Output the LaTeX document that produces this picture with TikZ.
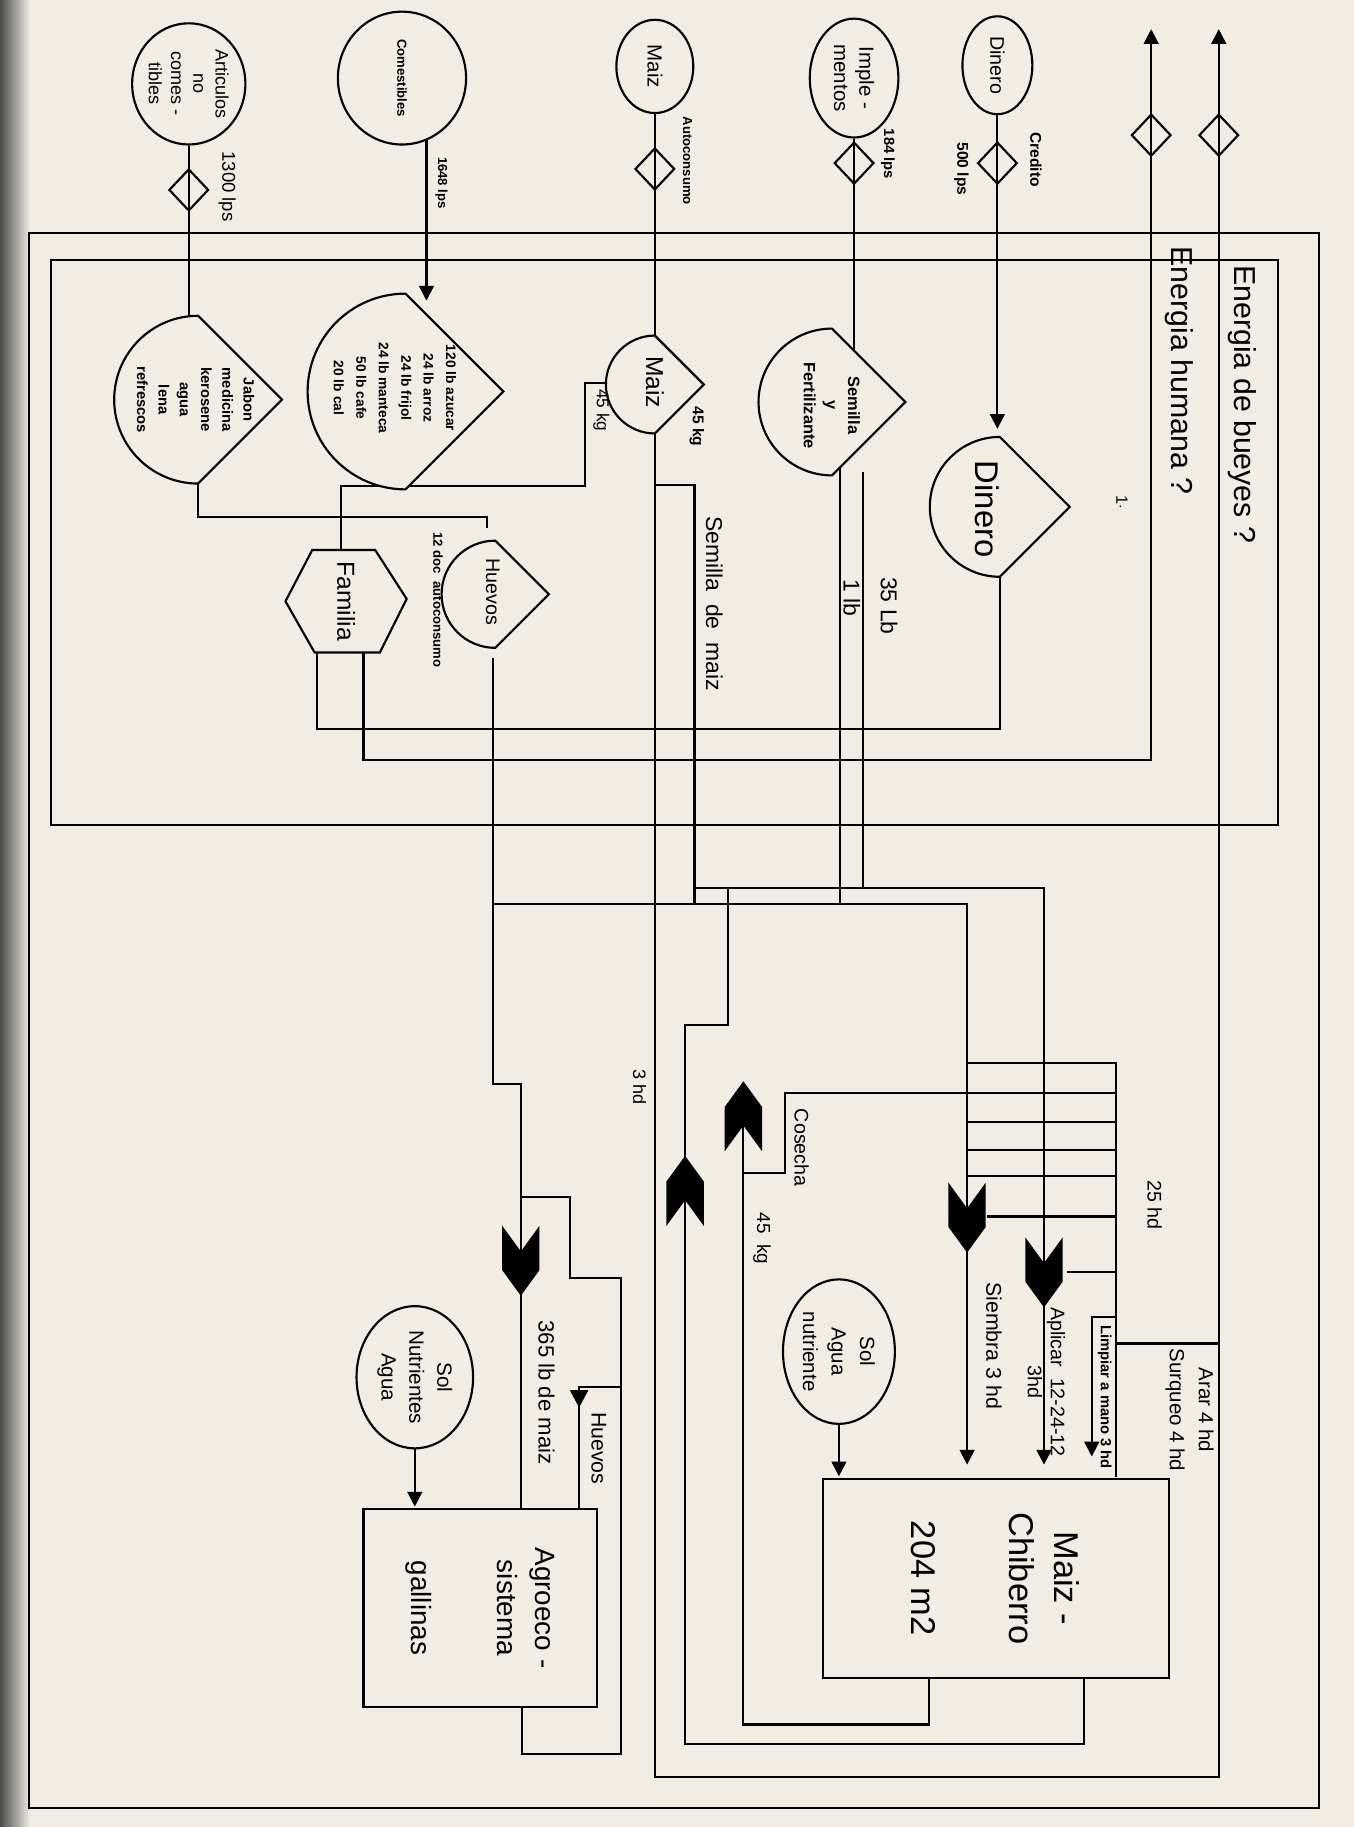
\documentclass[tikz,border=0pt]{standalone}
\usepackage{fontspec}
\setmainfont{Liberation Sans}
\usetikzlibrary{shapes.geometric,arrows.meta}
\definecolor{paper}{RGB}{241,236,228}
\newcommand\tagshape[3]{\draw[ln,fill=paper] (#1,#2-#3) arc[start angle=270,end angle=90,radius=#3] -- (#1+#3,#2) -- cycle;}
\newcommand\chevdown[2]{\fill[shift={(#1,#2)}] (-16,-30) -- (0,-8) -- (16,-30) -- (16,8) -- (0,30) -- (-16,8) -- cycle;}
\newcommand\chevup[2]{\fill[shift={(#1,#2)}] (-16,30) -- (0,8) -- (16,30) -- (16,-8) -- (0,-30) -- (-16,-8) -- cycle;}
\begin{document}
\begin{tikzpicture}[x=0.025cm,y=-0.025cm,
  ln/.style={line width=1.3pt,line join=miter},
  arr/.style={ln,-{Triangle[width=9pt,length=9pt]}},
  ell/.style={draw,ellipse,line width=1.3pt,inner sep=0pt,rotate=-90,align=center},
  dia/.style={draw,diamond,line width=1.3pt,inner sep=0pt,minimum width=0.85cm,minimum height=0.9cm},
  lbl/.style={rotate=-90,inner sep=0pt,align=center},
  fs/.style 2 args={font=\fontsize{#1}{#2}\selectfont},
  fsb/.style 2 args={font=\fontsize{#1}{#2}\selectfont\bfseries}]
\useasboundingbox (0,0) rectangle (1162,1568);
\fill[paper] (0,0) rectangle (1162,1568);
\shade[left color=black!70,right color=paper] (0,0) rectangle (26,1568);

% frames
\draw[ln] (25,200) rectangle (1132,1552);
\draw[ln] (44,223) rectangle (1097,708);

% top sources
\node[ell,fs={11}{13.6},minimum width=2.6cm,minimum height=2cm] (art) at (162,72) {Articulos\\no\\comes -\\tibles};
\node[ell,fsb={8}{10},minimum width=2.85cm,minimum height=2.75cm] (com) at (345,67) {Comestibles};
\node[ell,fs={12.5}{15},minimum width=2cm,minimum height=1.65cm] (emaiz) at (562,57) {Maiz};
\node[ell,fs={12.5}{15.5},minimum width=2.55cm,minimum height=1.9cm] (eimp) at (733,67) {Imple -\\mentos};
\node[ell,fs={12}{14},minimum width=2.1cm,minimum height=1.5cm] (edin) at (856,56) {Dinero};

% connectors from sources
\draw[ln] (art.east) -- (162,272);
\draw[arr] (366,120) -- (366,258);
\draw[ln] (emaiz.east) -- (562,288);
\draw[ln] (eimp.east) -- (733,301);
\draw[arr] (edin.east) -- (856,368);

% energy out
\draw[arr] (312,560) -- (312,652) -- (988,652) -- (988,25);
\draw[arr] (562,372) -- (562,1525) -- (1046,1525) -- (1046,25);

% diamonds
\node[dia] (d1) at (162,163) {};
\node[dia] (d3) at (562,145) {};
\node[dia] (d4) at (733,140) {};
\node[dia] (d5) at (856,140) {};
\node[dia] (d6) at (988,116) {};
\node[dia] (d7) at (1046,116) {};

% internal flows
\draw[ln] (170,415) -- (170,444) -- (418,444) -- (418,453);
\draw[ln] (520,329) -- (502,329) -- (502,417) -- (293,417) -- (293,472);
\draw[ln] (562,416) -- (596,416) -- (596,776);
\draw[ln] (721,401) -- (721,776);
\draw[ln] (741,405) -- (741,762);
\draw[ln] (858,495) -- (858,626) -- (272,626) -- (272,560);
\draw[ln] (423,565) -- (423,930) -- (447,930) -- (447,1295);
\draw[arr] (423,776) -- (830,776) -- (830,1257);
\draw[arr] (596,762) -- (896,762) -- (896,1257);
\draw[ln] (625,762) -- (625,880) -- (588,880) -- (588,1497) -- (930,1497) -- (930,1440);
\draw[ln] (638,930) -- (638,1480) -- (797,1480) -- (797,1440);
\draw[ln] (958,938) -- (674,938) -- (674,1007) -- (638,1007);
\draw[ln] (830,912) -- (958,912) -- (958,1268);
\foreach \yy in {963,987,1009} \draw[ln] (830,\yy) -- (958,\yy);
\draw[ln] (847,1044) -- (958,1044);
\draw[ln] (916,1092) -- (958,1092);
\draw[arr] (958,1130) -- (937,1130) -- (937,1250);
\draw[ln] (1046,1153) -- (958,1153);
\draw[ln] (447,1027) -- (489,1027) -- (489,1097) -- (533,1097) -- (533,1505) -- (448,1505) -- (448,1465);
\draw[ln] (533,1190) -- (497,1190) -- (497,1295);
\fill (489,1193) -- (505,1193) -- (497,1208) -- cycle;

% chevrons
\chevdown{447}{1082}
\chevdown{830}{1045}
\chevdown{896}{1092}
\chevup{588}{1022}
\chevup{638}{958}

% storage / consumer shapes
\tagshape{170}{343}{72}
\node[lbl,fsb={9}{13}] (jab) at (168,343) {Jabon\\medicina\\kerosene\\agua\\lena\\refrescos};
\tagshape{348}{336}{84}
\node[lbl,fsb={8.4}{13.7}] (cnode) at (339,333) {120 lb azucar\\24 lb arroz\\24 lb frijol\\24 lb manteca\\50 lb cafe\\20 lb cal};
\tagshape{562}{330}{42}
\node[lbl,fs={15}{18}] (mnode) at (562,328) {Maiz};
\tagshape{714}{345}{63}
\node[lbl,fsb={10}{13.5}] (snode) at (714,348) {Semilla\\y\\Fertilizante};
\tagshape{858}{435}{60}
\node[lbl,fs={20}{24}] (dnode) at (847,437) {Dinero};
\tagshape{425}{510}{46}
\node[lbl,fs={12}{14}] (hnode) at (423,508) {Huevos};
\draw[ln,fill=paper] (245,516) -- (268,472) -- (322,472) -- (349,514) -- (326,560) -- (270,560) -- cycle;
\node[lbl,fs={15}{18}] (fam) at (297,516) {Familia};

% sun sources and boxes
\node[ell,fs={12.5}{17.4},minimum width=3.1cm,minimum height=2.4cm] (solmc) at (720,1160) {Sol\\Agua\\nutriente};
\node[ell,fs={12.6}{17},minimum width=3.05cm,minimum height=2.5cm] (solag) at (356,1182) {Sol\\Nutrientes\\Agua};
\draw[arr] (solmc.east) -- (720,1267);
\draw[arr] (solag.east) -- (356,1293);
\node[draw,line width=1.3pt,rotate=-90,minimum width=4.275cm,minimum height=7.425cm,align=center,fs={21}{27.7}] (mc) at (854.5,1354.5) {Maiz -\\Chiberro\\[32pt]204 m2};
\node[draw,line width=1.3pt,rotate=-90,minimum width=4.25cm,minimum height=5cm,align=center,fs={17}{22.8}] (ag) at (412,1380) {Agroeco -\\sistema\\[30pt]gallinas};

% labels
\node[lbl,fs={18.5}{22}] at (1066,347) {Energia de bueyes ?};
\node[lbl,fs={18.5}{22}] at (1012,318) {Energia humana ?};
\node[lbl,fs={11.3}{13}] at (195,160) {1300 lps};
\node[lbl,fsb={8}{10}] at (379,157) {1648 lps};
\node[lbl,fsb={8}{10}] at (590,138) {Autoconsumo};
\node[lbl,fsb={9}{11}] at (762,132) {184 lps};
\node[lbl,fsb={9.5}{11}] at (825,145) {500 lps};
\node[lbl,fsb={9.5}{11}] at (889,137) {Credito};
\node[lbl,fsb={8}{10}] at (376,515) {12 doc\ \ autoconsumo};
\node[lbl,fs={10.5}{12}] at (516,352) {45 kg};
\node[lbl,fsb={9.5}{11}] at (598,366) {45 kg};
\node[lbl,fs={14}{16}] at (613,518) {Semilla\ \ de\ \ maiz};
\node[lbl,fs={14}{16}] at (731,513) {1 lb};
\node[lbl,fs={14}{16}] at (763,520) {35 Lb};
\node[lbl,fs={10}{12}] at (963,431) {1$\cdot$};
\node[lbl,fs={11}{13}] at (549,933) {3 hd};
\node[lbl,fs={11.5}{13}] at (654,1063) {45\ \ kg};
\node[lbl,fs={12}{14}] at (688,985) {Cosecha};
\node[lbl,fs={12}{14}] at (991,1034) {25 hd};
\node[lbl,fs={13}{15}] at (853,1155) {Siembra 3 hd};
\node[lbl,fs={12}{14}] at (898,1186) {Aplicar\ \ 12-24-12\\3hd};
\node[lbl,fsb={9}{11}] at (948,1199) {Limpiar a mano 3 hd};
\node[lbl,fs={12.5}{17.8}] at (1021,1210) {Arar 4 hd\\Surqueo 4 hd};
\node[lbl,fs={13.5}{16}] at (469,1195) {365 lb de maiz};
\node[lbl,fs={13}{15}] at (514,1243) {Huevos};
\end{tikzpicture}
\end{document}
